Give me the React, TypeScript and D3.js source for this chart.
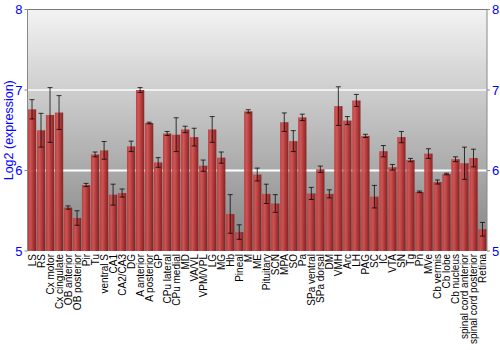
import React from "react";
import * as d3 from "d3";

const categories = ["LS","RS","Cx motor","Cx cingulate","OB anterior","OB posterior","Pir","Tu","ventral S","CA1","CA2/CA3","DG","A anterior","A posterior","GP","CPu lateral","CPu medial","MD","VA/VL","VPM/VPL","LG","MG","Hb","Pineal","M","ME","Pituitary","SCN","MPA","SO","Pa","SPa ventral","SPa dorsal","DM","VMH","Arc","LH","PAG","SC","IC","VTA","SN","Tg","Pn","MVe","Cb vermis","Cb lobe","Cb nucleus","spinal cord anterior","spinal cord posterior","Retina"];
const values = [6.76,6.50,6.69,6.72,5.54,5.41,5.82,6.20,6.25,5.70,5.72,6.30,7.00,6.59,6.10,6.46,6.445,6.51,6.415,6.06,6.51,6.16,5.46,5.235,6.735,5.95,5.71,5.59,6.60,6.365,6.66,5.715,6.015,5.71,6.80,6.62,6.87,6.43,5.675,6.24,6.04,6.415,6.13,5.735,6.21,5.857,5.956,6.14,6.09,6.155,5.27];
const errors = [0.12,0.21,0.34,0.21,0.02,0.09,0.02,0.03,0.11,0.13,0.05,0.065,0.03,0.01,0.06,0.025,0.21,0.04,0.11,0.07,0.16,0.07,0.24,0.09,0.02,0.08,0.12,0.11,0.115,0.13,0.04,0.075,0.04,0.05,0.24,0.05,0.075,0.02,0.14,0.07,0.035,0.07,0.02,0.01,0.06,0.025,0.01,0.03,0.2,0.11,0.085];
const yTicks = [5, 6, 7, 8];

export default function App() {
  const W = 500, H = 350;
  const left = 27.5, right = 487, top = 9.5, bottom = 251;
  const x = d3.scaleBand<string>().domain(categories).range([left, right]).paddingInner(0.08).paddingOuter(0.04);
  const y = d3.scaleLinear().domain([5, 8]).range([bottom, top]);
  const bw = x.bandwidth();
  const font = "Arial, 'Liberation Sans', sans-serif";
  return (
    <svg width={W} height={H} style={{ position: "absolute", left: 0, top: 0 }} fontFamily={font}>
      <defs>
        <linearGradient id="bg" x1="0" y1="0" x2="0" y2="1">
          <stop offset="0%" stopColor="#f3f3f3" />
          <stop offset="100%" stopColor="#848484" />
        </linearGradient>
        <linearGradient id="bar" x1="0" y1="0" x2="1" y2="0">
          <stop offset="0%" stopColor="#bc3838" />
          <stop offset="30%" stopColor="#d04e4e" />
          <stop offset="60%" stopColor="#b43232" />
          <stop offset="100%" stopColor="#801818" />
        </linearGradient>
      </defs>
      <rect x={left} y={top} width={right - left} height={bottom - top} fill="url(#bg)" />
      {[6, 7].map((t) => (
        <line key={t} x1={left} x2={right} y1={y(t)} y2={y(t)} stroke="#ffffff" strokeOpacity={t === 7 ? 0.7 : 1} strokeWidth={2} />
      ))}
      {categories.map((c, i) => (
        <rect key={c} x={x(c)} y={y(values[i])} width={bw} height={bottom - y(values[i])} fill="url(#bar)" opacity={0.92} />
      ))}
      {categories.map((c, i) => {
        const cx = (x(c) as number) + bw / 2;
        const y1 = y(values[i] + errors[i]);
        const y2 = y(values[i] - errors[i]);
        return (
          <g key={"e" + c} stroke="#000" strokeOpacity={0.75} strokeWidth={1}>
            <line x1={cx} x2={cx} y1={y1} y2={y2} />
            <line x1={cx - 2.5} x2={cx + 2.5} y1={y1} y2={y1} />
            <line x1={cx - 2.5} x2={cx + 2.5} y1={y2} y2={y2} />
          </g>
        );
      })}
      <line x1={left} x2={right} y1={top} y2={top} stroke="#777" strokeWidth={1} />
      <line x1={left} x2={left} y1={top} y2={bottom} stroke="#888" strokeWidth={1} />
      <line x1={right} x2={right} y1={top} y2={bottom} stroke="#888" strokeWidth={1} />
      {yTicks.map((t) => (
        <g key={"t" + t}>
          <line x1={left - 3} x2={left} y1={y(t)} y2={y(t)} stroke="#888" />
          <line x1={right} x2={right + 3} y1={y(t)} y2={y(t)} stroke="#888" />
          <text x={left - 5} y={y(t)} dy="0.36em" textAnchor="end" fill="#0000ff" fontSize={13}>{t}</text>
          <text x={right + 5} y={y(t)} dy="0.36em" textAnchor="start" fill="#0000ff" fontSize={13}>{t}</text>
        </g>
      ))}
      <text transform={`translate(13,${(top + bottom) / 2}) rotate(-90)`} textAnchor="middle" fill="#0000ff" fontSize={12.5}>Log2 (expression)</text>
      {categories.map((c) => {
        const cx = (x(c) as number) + bw / 2;
        return (
          <text key={"l" + c} transform={`translate(${cx + 3.5},${bottom + 3}) rotate(-90)`} textAnchor="end" fontSize={10} fill="#000">{c}</text>
        );
      })}
    </svg>
  );
}
